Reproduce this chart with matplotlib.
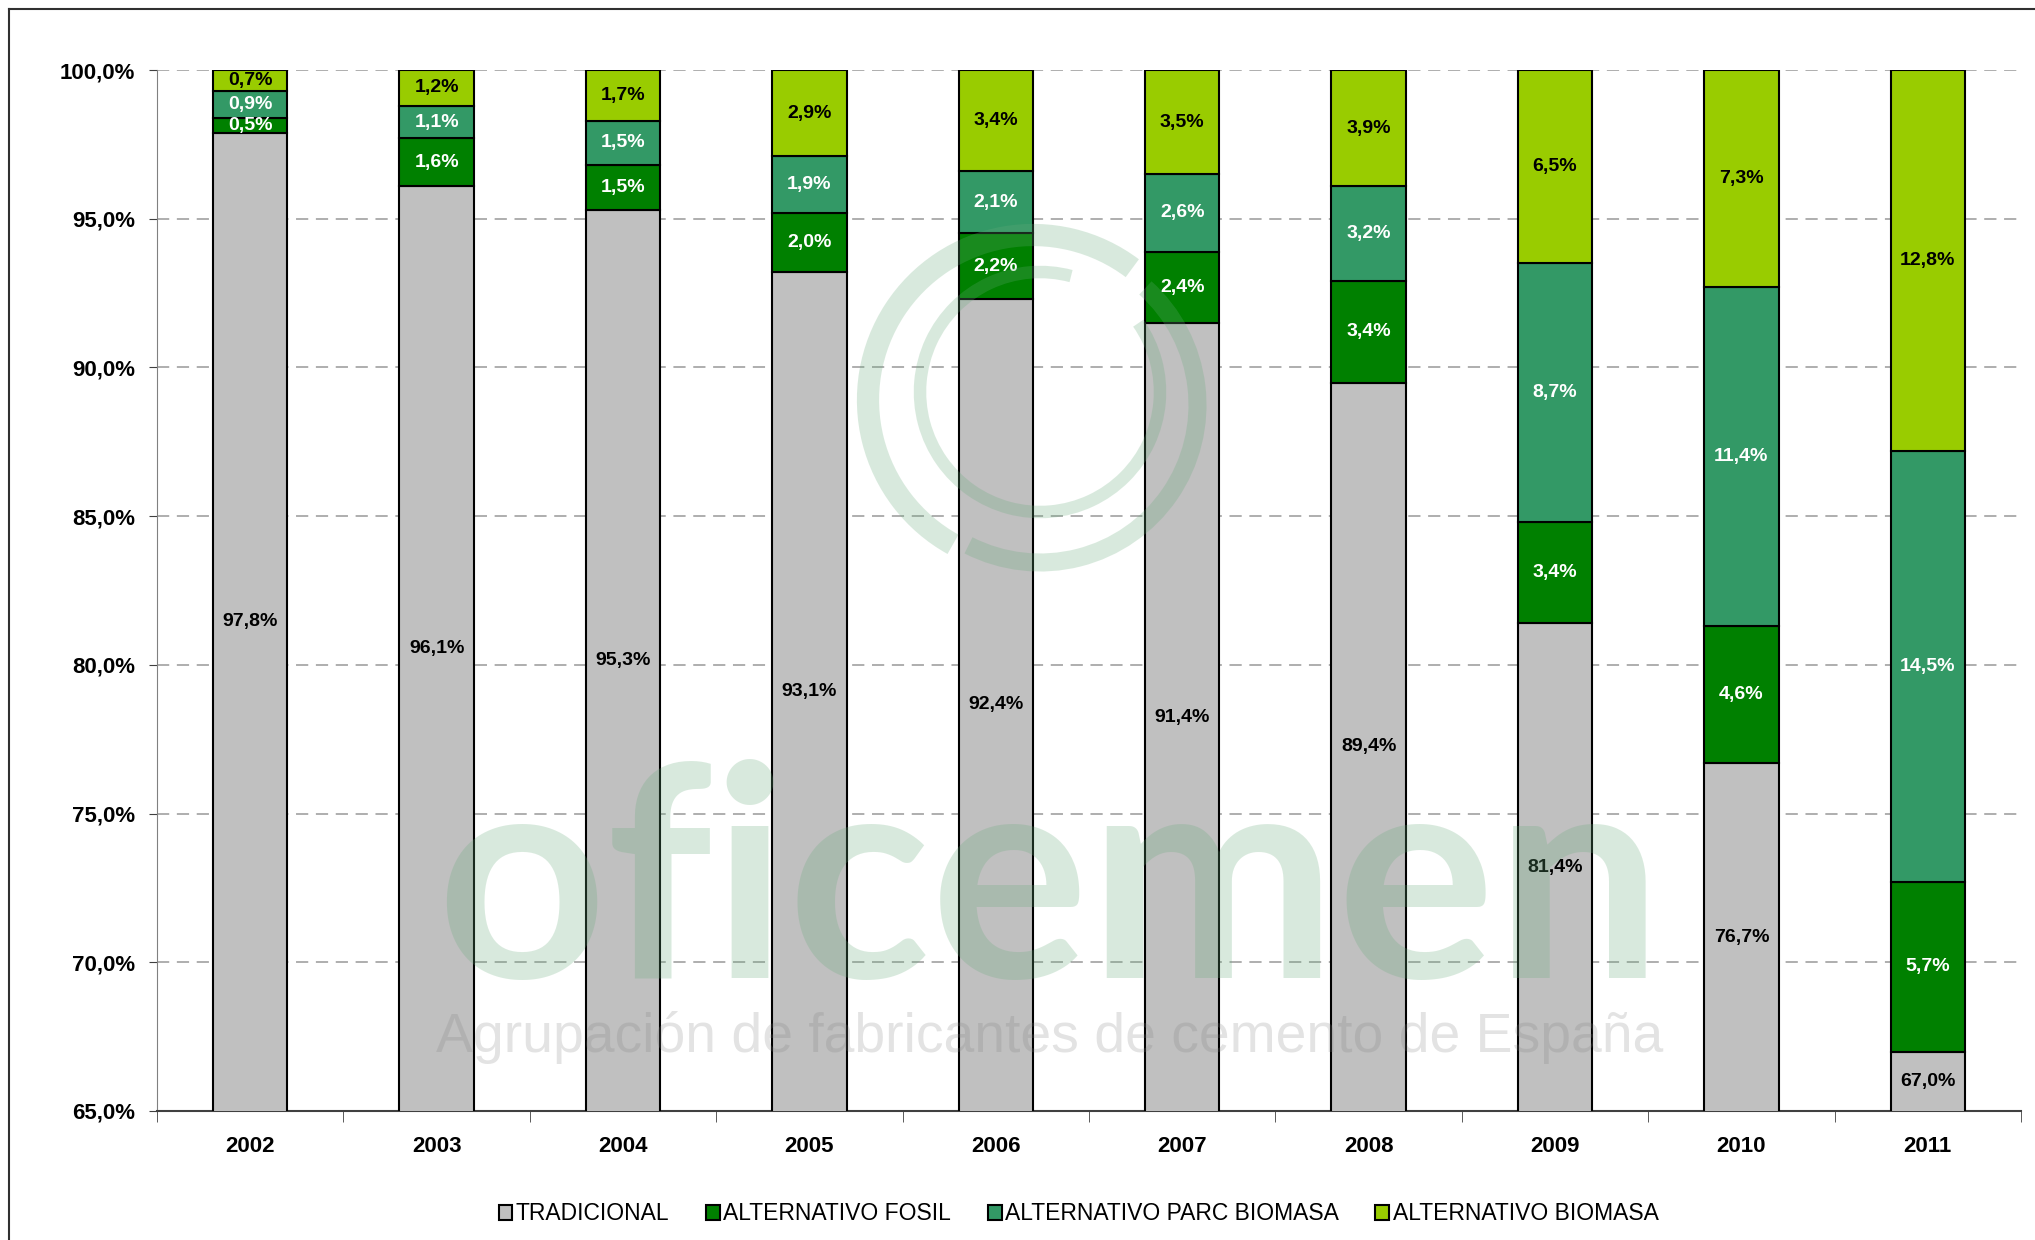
import matplotlib

matplotlib.use("Agg")
import matplotlib.pyplot as plt
import numpy as np
from matplotlib.patches import Arc

years = ["2002", "2003", "2004", "2005", "2006", "2007", "2008", "2009", "2010", "2011"]
tradicional = [97.8, 96.1, 95.3, 93.1, 92.4, 91.4, 89.4, 81.4, 76.7, 67.0]
alt_fosil = [0.5, 1.6, 1.5, 2.0, 2.2, 2.4, 3.4, 3.4, 4.6, 5.7]
alt_parc_biomasa = [0.9, 1.1, 1.5, 1.9, 2.1, 2.6, 3.2, 8.7, 11.4, 14.5]
alt_biomasa = [0.7, 1.2, 1.7, 2.9, 3.4, 3.5, 3.9, 6.5, 7.3, 12.8]

series_names = ["TRADICIONAL", "ALTERNATIVO FOSIL", "ALTERNATIVO PARC BIOMASA", "ALTERNATIVO BIOMASA"]
series = [tradicional, alt_fosil, alt_parc_biomasa, alt_biomasa]
colors = ["#C0C0C0", "#008000", "#339966", "#99CC00"]
label_colors = ["black", "white", "white", "black"]
y_ticks = [65, 70, 75, 80, 85, 90, 95, 100]

W, H = 2035, 1240
plt.rcParams["font.family"] = ["Liberation Sans", "DejaVu Sans"]

fig = plt.figure(figsize=(W / 100, H / 100), dpi=100)
ax = fig.add_axes([157 / W, 1 - 1111 / H, (2021 - 157) / W, (1111 - 70) / H])

# 100% stacked: each column scaled so its segments fill to 100
data = np.array(series, dtype=float)
shares = data / data.sum(axis=0) * 100

x = np.arange(len(years))
bottom = np.zeros(len(years))
for raw, vals, name, col, lcol in zip(data, shares, series_names, colors, label_colors):
    ax.bar(x, vals, bottom=bottom, width=0.4, color=col, edgecolor="black",
           linewidth=1.5, label=name, zorder=3)
    for xi, b, v, rv in zip(x, bottom, vals, raw):
        lo = max(b, y_ticks[0])
        ax.text(xi, (lo + b + v) / 2, f"{rv:.1f}%".replace(".", ","), ha="center",
                va="center", fontsize=14, fontweight="bold", color=lcol, zorder=4)
    bottom += vals

ax.set_xlim(-0.5, len(years) - 0.5)
ax.set_ylim(y_ticks[0], y_ticks[-1])
ax.set_yticks(y_ticks)
ax.set_yticklabels([f"{t:.1f}%".replace(".", ",") for t in y_ticks],
                   fontsize=16, fontweight="bold")
ax.set_xticks(x)
ax.set_xticklabels(years, fontsize=16, fontweight="bold")
ax.set_xticks(np.arange(len(years) + 1) - 0.5, minor=True)
ax.tick_params(axis="x", which="major", length=0, pad=18)
ax.tick_params(axis="x", which="minor", length=8, direction="out", color="#404040")
ax.tick_params(axis="y", length=6, pad=10, color="#404040")
ax.yaxis.grid(True, color="#999999", linestyle=(0, (8, 5)), linewidth=1.1, zorder=0)
ax.set_axisbelow(True)
for s in ["top", "right"]:
    ax.spines[s].set_visible(False)
ax.spines["left"].set_color("#808080")
ax.spines["bottom"].set_color("#404040")
ax.spines["bottom"].set_linewidth(1.5)

ax.legend(loc="center", bbox_to_anchor=(0.53, 0.021), bbox_transform=fig.transFigure,
          ncol=4, frameon=False, fontsize=16.5, handlelength=0.6, handleheight=0.6,
          handletextpad=0.15, columnspacing=1.6)

# watermark overlay in pixel coordinates
ov = fig.add_axes([0, 0, 1, 1], zorder=5)
ov.set_xlim(0, W)
ov.set_ylim(0, H)
ov.axis("off")
ov.patch.set_alpha(0)

wm_green = "#67AB7B"
t1 = ov.text(436, H - 978, "oficemen", fontsize=200, family="Lato", fontweight="bold",
             color=wm_green, alpha=0.25, ha="left", va="baseline")
t2 = ov.text(436, H - 1052, "Agrupación de fabricantes de cemento de España", fontsize=40,
             family=["Liberation Sans Narrow", "Liberation Sans"],
             color="#808080", alpha=0.22, ha="left", va="baseline")
fig.canvas.draw()
r = fig.canvas.get_renderer()
for t, target in [(t1, 1226), (t2, 1226)]:
    bb = t.get_window_extent(r)
    t.set_fontsize(t.get_fontsize() * target / bb.width)

ov.add_patch(Arc((1033, H - 400), 330, 330, theta1=53, theta2=241, color=wm_green,
                 alpha=0.25, lw=16))
ov.add_patch(Arc((1040, H - 405), 315, 315, theta1=-117, theta2=48, color=wm_green,
                 alpha=0.25, lw=13))
ov.add_patch(Arc((1040, H - 392), 240, 240, theta1=75, theta2=395, color=wm_green,
                 alpha=0.25, lw=9))

# outer frame
ov.plot([9, 9], [0, H - 9], color="#303030", lw=1.5)
ov.plot([9, W], [H - 9, H - 9], color="#303030", lw=1.5)

fig.savefig("out.png", dpi=100)
